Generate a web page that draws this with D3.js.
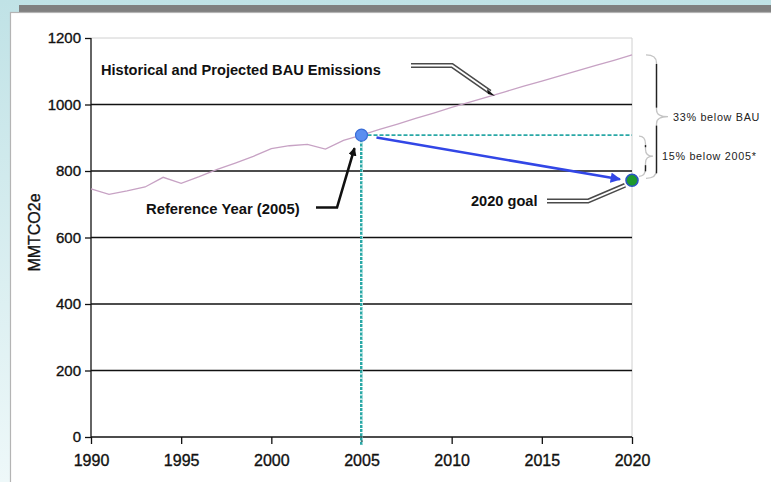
<!DOCTYPE html>
<html><head><meta charset="utf-8">
<script src="https://cdn.jsdelivr.net/npm/d3@7/dist/d3.min.js"></script>
<style>
html,body{margin:0;padding:0;overflow:hidden;}
svg{display:block;font-family:"Liberation Sans",Arial,sans-serif;}
</style></head>
<body>
<svg id="c" width="771" height="482"></svg>
<script>
// ---- data ----
const years = [1990,1991,1992,1993,1994,1995,1996,1997,1998,1999,2000,2001,2002,2003,2004,2005,
               2006,2007,2008,2009,2010,2011,2012,2013,2014,2015,2016,2017,2018,2019,2020];
const emissions = [746,730,740,752,781,763,783,805,824,844,867,876,880,866,892,908,
                   925,941,958,974,991,1007,1023,1039,1055,1070,1086,1102,1118,1133,1149];
const xTicks = [1990,1995,2000,2005,2010,2015,2020];
const yTicks = [0,200,400,600,800,1000,1200];
const refYear = 2005, refValue = 908;
const goalYear = 2020, goalValue = 772;
const yTitle = "MMTCO2e";
const labels = ["Historical and Projected BAU Emissions","Reference Year (2005)","2020 goal","33% below BAU","15% below 2005*"];

// ---- drawing ----
const svg = d3.select("#c");
const defs = svg.append("defs");
const bg = defs.append("linearGradient").attr("id","bg").attr("x1",0).attr("y1",0).attr("x2",0).attr("y2",1);
bg.append("stop").attr("offset","0%").attr("stop-color","#c0e2e6");
bg.append("stop").attr("offset","100%").attr("stop-color","#eef8f9");
svg.append("rect").attr("width",771).attr("height",482).attr("fill","url(#bg)");
svg.append("rect").attr("x",19).attr("y",5).attr("width",760).attr("height",8).attr("fill","#808080");
svg.append("rect").attr("x",10.5).attr("y",12.5).attr("width",770).attr("height",480).attr("fill","#fff").attr("stroke","#b4b4b4").attr("stroke-width",1.2);

defs.append("marker").attr("id","blueArrow").attr("viewBox","0 0 10 10").attr("refX",9).attr("refY",5)
  .attr("markerWidth",4).attr("markerHeight",4).attr("orient","auto").attr("markerUnits","strokeWidth")
  .append("path").attr("d","M0,0 L10,5 L0,10 z").attr("fill","#3246e6");
defs.append("marker").attr("id","blackArrow").attr("viewBox","0 0 10 10").attr("refX",9).attr("refY",5)
  .attr("markerWidth",3.2).attr("markerHeight",3.2).attr("orient","auto").attr("markerUnits","strokeWidth")
  .append("path").attr("d","M0,0 L10,5 L0,10 z").attr("fill","#111");

const x = d3.scaleLinear().domain([1990,2020]).range([91,632]);
const y = d3.scaleLinear().domain([0,1200]).range([437,38]);

// plot border (top & right)
svg.append("path").attr("d",`M${x(1990)},${y(1200)}H${x(2020)}V${y(0)}`).attr("fill","none").attr("stroke","#d0d0d0").attr("stroke-width",1);

// gridlines
svg.append("g").selectAll("line").data(yTicks.filter(d=>d>0 && d<1200)).join("line")
  .attr("x1",x(1990)).attr("x2",x(2020)).attr("y1",d=>y(d)).attr("y2",d=>y(d))
  .attr("stroke","#111").attr("stroke-width",1.3);

// axes
const yAxis = svg.append("g").attr("transform",`translate(${x(1990)},0)`)
  .call(d3.axisLeft(y).tickValues(yTicks).tickSize(6).tickPadding(4).tickFormat(d3.format("d")));
const xAxis = svg.append("g").attr("transform",`translate(0,${y(0)})`)
  .call(d3.axisBottom(x).tickValues(xTicks).tickSize(7).tickPadding(11).tickFormat(d3.format("d")));
[yAxis,xAxis].forEach(a=>{
  a.attr("font-size",null).attr("font-family",null);
  a.select(".domain").attr("stroke","#111").attr("stroke-width",1.3);
  a.selectAll(".tick line").attr("stroke","#111").attr("stroke-width",1.3);
  a.selectAll("text").attr("fill","#111").attr("stroke","#111").attr("stroke-width",0.35);
});
yAxis.selectAll("text").attr("font-size","15px");
xAxis.selectAll("text").attr("font-size","16px");
yAxis.select(".domain").attr("d",`M-0,${y(1200)}V${y(0)}`);
xAxis.select(".domain").attr("d",`M${x(1990)},0H${x(2020)}`);

// y title
svg.append("text").attr("transform",`translate(40,${(y(0)+y(1200))/2-5}) rotate(-90)`)
  .attr("text-anchor","middle").attr("font-size","16px").attr("fill","#111").attr("stroke","#111").attr("stroke-width",0.35).text(yTitle);

// BAU line
svg.append("path").datum(years.map((d,i)=>[d,emissions[i]]))
  .attr("d",d3.line().x(d=>x(d[0])).y(d=>y(d[1])))
  .attr("fill","none").attr("stroke","#c7a2c4").attr("stroke-width",1.3);

// teal dashed reference lines
svg.append("line").attr("x1",x(refYear)).attr("x2",x(refYear)).attr("y1",y(refValue)).attr("y2",y(0)+9)
  .attr("stroke","#2aa8a6").attr("stroke-width",3).attr("stroke-dasharray","3,1.2");
svg.append("line").attr("x1",x(refYear)+1).attr("x2",x(refYear)+1).attr("y1",y(refValue)).attr("y2",y(0)+9)
  .attr("stroke","#bfe8e6").attr("stroke-width",0.8).attr("stroke-dasharray","3,1.2");
svg.append("line").attr("x1",x(refYear)).attr("x2",x(goalYear)).attr("y1",y(refValue)).attr("y2",y(refValue))
  .attr("stroke","#2aa8a6").attr("stroke-width",1.6).attr("stroke-dasharray","4,2");

// blue arrow
svg.append("line").attr("x1",x(refYear)+15).attr("y1",y(refValue)+2.5)
  .attr("x2",x(goalYear)-12).attr("y2",y(goalValue)-1)
  .attr("stroke","#3246e6").attr("stroke-width",2.6).attr("marker-end","url(#blueArrow)");

// points
svg.append("circle").attr("cx",x(refYear)).attr("cy",y(refValue)).attr("r",6)
  .attr("fill","#5a8ef0").attr("stroke","#3a6cd6").attr("stroke-width",1.2);
svg.append("circle").attr("cx",x(goalYear)).attr("cy",y(goalValue)).attr("r",6)
  .attr("fill","#1c9a2e").attr("stroke","#2a56c0").attr("stroke-width",1.6);

// double-line callout helper
function callout(d){
  svg.append("path").attr("d",d).attr("fill","none").attr("stroke","#4a4a4a").attr("stroke-width",5).attr("stroke-linejoin","miter");
  svg.append("path").attr("d",d).attr("fill","none").attr("stroke","#fff").attr("stroke-width",1.8);
}
// Historical label
svg.append("text").attr("x",101).attr("y",75).attr("font-size","14.6px").attr("font-weight","bold").attr("fill","#111").text(labels[0]);
callout(`M411,65.5H452L490,92`);
svg.append("path").attr("d","M487,89 L495,96 L488,94 Z").attr("fill","#111");

// Reference year label
svg.append("text").attr("x",146).attr("y",214).attr("font-size","14.8px").attr("font-weight","bold").attr("fill","#111").text(labels[1]);
svg.append("path").attr("d",`M316,207.5H337L${x(refYear)-7},${y(refValue)+13}`).attr("fill","none")
  .attr("stroke","#111").attr("stroke-width",2.6).attr("marker-end","url(#blackArrow)");

// 2020 goal label
svg.append("text").attr("x",471).attr("y",206).attr("font-size","14.6px").attr("font-weight","bold").attr("fill","#111").text(labels[2]);
callout(`M547,201H588L${x(goalYear)-7},${y(goalValue)+5}`);

// braces
function brace(y0,y1,x0,sx,tx,label,lx,fs){
  const ym=(y0+y1)/2;
  const d=`M${x0},${y0} Q${sx},${y0} ${sx},${y0+8} L${sx},${ym-7} Q${sx},${ym} ${tx},${ym} Q${sx},${ym} ${sx},${ym+7} L${sx},${y1-8} Q${sx},${y1} ${x0},${y1}`;
  svg.append("path").attr("d",d).attr("fill","none").attr("stroke","#c4c4c4").attr("stroke-width",1.3);
  svg.append("line").attr("x1",sx).attr("x2",sx).attr("y1",y0+9).attr("y2",ym-9).attr("stroke","#222").attr("stroke-width",1.4);
  svg.append("line").attr("x1",sx).attr("x2",sx).attr("y1",ym+9).attr("y2",y1-5).attr("stroke","#222").attr("stroke-width",1.4);
  svg.append("text").attr("x",lx).attr("y",ym+4).attr("font-size",fs).attr("letter-spacing","0.7px").attr("fill","#222").text(label);
}
brace(y(emissions[emissions.length-1]), y(goalValue)-2, 646, 656.5, 668, labels[3], 673, "10.8px");
brace(y(refValue)+1, y(goalValue)-4, 639, 645.5, 653, labels[4], 662, "10.8px");
</script>
</body></html>
